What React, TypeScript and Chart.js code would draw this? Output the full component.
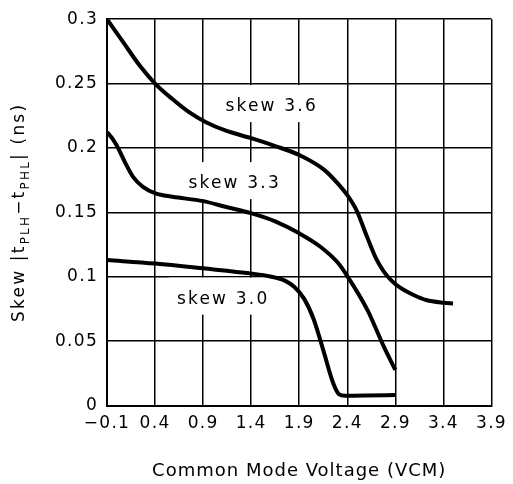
import React, { useEffect, useRef } from "react";
import { Chart, registerables } from "chart.js";

Chart.register(...registerables);

// Axis ticks
const xTickValues = [-0.1, 0.4, 0.9, 1.4, 1.9, 2.4, 2.9, 3.4, 3.9];
const yTickValues = [0, 0.05, 0.1, 0.15, 0.2, 0.25, 0.3];

// Series: skew 3.6
const skew36X = [-0.1, 0.07, 0.24, 0.4, 0.58, 0.75, 0.93, 1.13, 1.4, 1.65, 1.9, 2.16, 2.3, 2.4, 2.5, 2.6, 2.7, 2.78, 2.86, 2.95, 3.09, 3.22, 3.4, 3.5];
const skew36Y = [0.3, 0.282, 0.264, 0.25, 0.238, 0.228, 0.22, 0.2136, 0.2076, 0.2015, 0.1945, 0.183, 0.1725, 0.1634, 0.151, 0.132, 0.114, 0.104, 0.097, 0.0915, 0.0858, 0.0819, 0.0798, 0.0793];

// Series: skew 3.3
const skew33X = [-0.1, -0.087, 0.0, 0.085, 0.171, 0.274, 0.404, 0.582, 0.9, 1.132, 1.406, 1.65, 1.9, 2.12, 2.3, 2.4, 2.61, 2.78, 2.9];
const skew33Y = [0.212, 0.2113, 0.2022, 0.1892, 0.1776, 0.1698, 0.1647, 0.1621, 0.1587, 0.1543, 0.1492, 0.143, 0.1337, 0.1233, 0.111, 0.1005, 0.0741, 0.0457, 0.0276];

// Series: skew 3.0
const skew30X = [-0.1, 0.4, 0.9, 1.4, 1.6, 1.75, 1.85, 1.95, 2.05, 2.15, 2.25, 2.31, 2.38, 2.6, 2.9];
const skew30Y = [0.113, 0.1102, 0.1065, 0.1025, 0.1002, 0.097, 0.092, 0.083, 0.067, 0.043, 0.018, 0.009, 0.0075, 0.0077, 0.0082];

const seriesNames = ["skew 3.6", "skew 3.3", "skew 3.0"];
const labelAnchorX = [1.613, 1.228, 1.109];
const labelAnchorY = [0.2333, 0.1735, 0.0838];

const xTitle = "Common Mode Voltage (VCM)";

const FONT = '"DejaVu Sans"';

const toPoints = (xs: number[], ys: number[]) => xs.map((x, i) => ({ x, y: ys[i] }));

const fmtX = (v: number) => (v < 0 ? "\u2212" : "") + Math.abs(v).toFixed(1);
const fmtY = (v: number) => String(Number(v.toFixed(2)));

const decorPlugin = {
  id: "decor",
  beforeDraw(chart: any) {
    chart.ctx.letterSpacing = "1.3px";
  },
  beforeDatasetsDraw(chart: any) {
    const { ctx, scales } = chart;
    const xs = scales.x;
    const ys = scales.y;
    ctx.save();
    ctx.font = `17px ${FONT}`;
    ctx.letterSpacing = "2.2px";
    ctx.textAlign = "left";
    ctx.textBaseline = "alphabetic";
    seriesNames.forEach((name, i) => {
      const px = xs.getPixelForValue(labelAnchorX[i]);
      const py = ys.getPixelForValue(labelAnchorY[i]);
      const w = ctx.measureText(name).width;
      ctx.fillStyle = "#fff";
      ctx.fillRect(px - w / 2 - 8, py - 20, w + 16, 37);
      ctx.fillStyle = "#000";
      ctx.fillText(name, px - w / 2, py + 6.2);
    });
    ctx.restore();
  },
  afterDraw(chart: any) {
    const { ctx, chartArea } = chart;
    ctx.save();
    ctx.fillStyle = "#000";
    // x title
    ctx.font = `18px ${FONT}`;
    ctx.letterSpacing = "1px";
    ctx.textAlign = "center";
    ctx.textBaseline = "alphabetic";
    ctx.fillText(xTitle, (chartArea.left + chartArea.right) / 2, 476);

    // y title with subscripts
    const pieces: [string, boolean][] = [
      ["Skew |t", false],
      ["PLH", true],
      ["\u2212t", false],
      ["PHL", true],
      ["| (ns)", false],
    ];
    ctx.letterSpacing = "2.2px";
    const mainFont = `17px ${FONT}`;
    const subFont = `12px ${FONT}`;
    let total = 0;
    const widths = pieces.map(([t, sub]) => {
      ctx.font = sub ? subFont : mainFont;
      const w = ctx.measureText(t).width;
      total += w;
      return w;
    });
    const cy = (chartArea.top + chartArea.bottom) / 2;
    ctx.translate(24, cy);
    ctx.rotate(-Math.PI / 2);
    ctx.textAlign = "left";
    let x = -total / 2;
    pieces.forEach(([t, sub], i) => {
      ctx.font = sub ? subFont : mainFont;
      ctx.fillText(t, x, sub ? 5 : 0);
      x += widths[i];
    });
    ctx.restore();
  },
};

export default function App() {
  const canvasRef = useRef<HTMLCanvasElement | null>(null);

  useEffect(() => {
    if (!canvasRef.current) return;
    const lineStyle = {
      borderColor: "#000",
      borderWidth: 4,
      pointRadius: 0,
      fill: false,
      cubicInterpolationMode: "monotone" as const,
      borderCapStyle: "butt" as const,
      borderJoinStyle: "round" as const,
    };
    const chart = new Chart(canvasRef.current, {
      type: "line",
      data: {
        datasets: [
          { label: seriesNames[0], data: toPoints(skew36X, skew36Y), ...lineStyle },
          { label: seriesNames[1], data: toPoints(skew33X, skew33Y), ...lineStyle },
          { label: seriesNames[2], data: toPoints(skew30X, skew30Y), ...lineStyle },
        ],
      },
      options: {
        animation: false,
        responsive: true,
        maintainAspectRatio: false,
        layout: { padding: { left: 0, right: 17.5, top: 19, bottom: 0 } },
        plugins: { legend: { display: false }, tooltip: { enabled: false } },
        scales: {
          x: {
            type: "linear",
            min: -0.1,
            max: 3.9,
            afterBuildTicks: (s: any) => {
              s.ticks = xTickValues.map((v) => ({ value: v }));
            },
            afterFit: (s: any) => {
              s.height = 78.5;
            },
            grid: { color: "#000", lineWidth: 1.5, drawTicks: false },
            border: { color: "#000", width: 2 },
            ticks: {
              color: "#000",
              font: { family: "DejaVu Sans", size: 17 },
              padding: 8,
              maxRotation: 0,
              autoSkip: false,
              callback: (v: any) => fmtX(Number(v)),
            },
          },
          y: {
            type: "linear",
            min: 0,
            max: 0.3,
            afterBuildTicks: (s: any) => {
              s.ticks = yTickValues.map((v) => ({ value: v }));
            },
            afterFit: (s: any) => {
              s.width = 107;
            },
            grid: { color: "#000", lineWidth: 1.5, drawTicks: false },
            border: { color: "#000", width: 2 },
            ticks: {
              color: "#000",
              font: { family: "DejaVu Sans", size: 17 },
              padding: 9,
              autoSkip: false,
              callback: (v: any) => fmtY(Number(v)),
            },
          },
        },
      },
      plugins: [decorPlugin],
    });
    return () => chart.destroy();
  }, []);

  return (
    <div style={{ position: "absolute", left: 0, top: 0, width: 513, height: 484, background: "#fff" }}>
      <canvas ref={canvasRef} />
    </div>
  );
}
